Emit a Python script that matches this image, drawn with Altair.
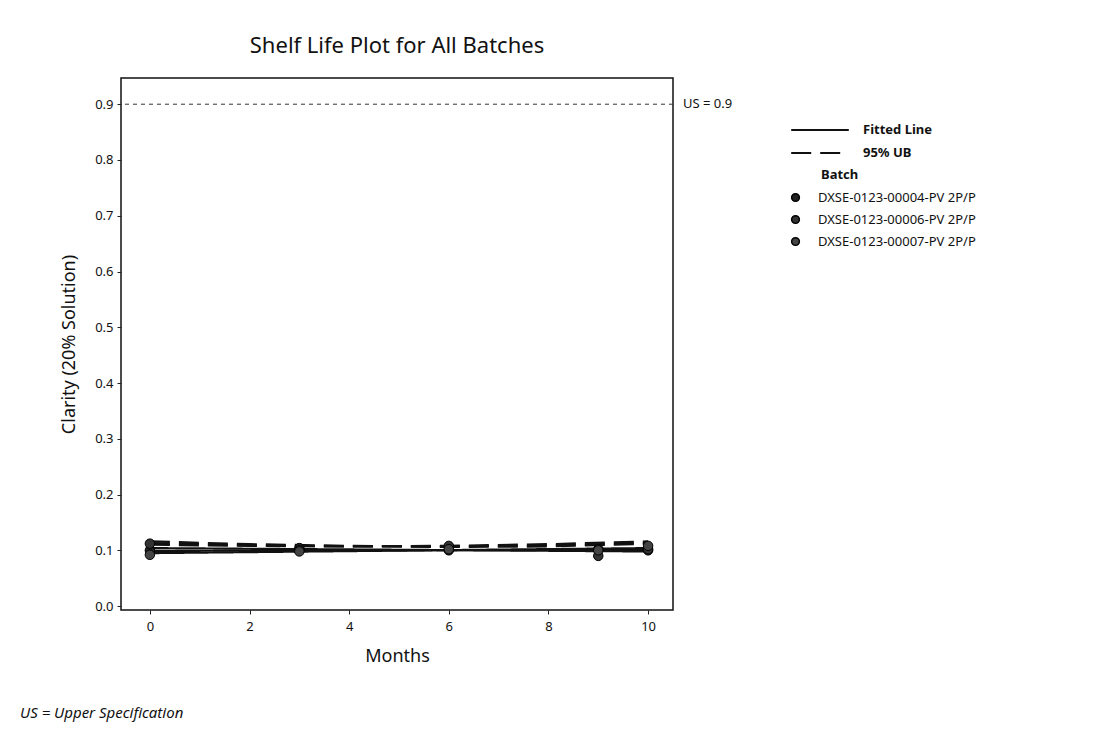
import altair as alt
import pandas as pd

FONT = "Noto Sans"

batches = ["DXSE-0123-00004-PV 2P/P", "DXSE-0123-00006-PV 2P/P", "DXSE-0123-00007-PV 2P/P"]
months = [0, 3, 6, 9, 10]
clarity_b1 = [0.100, 0.104, 0.100, 0.102, 0.100]
clarity_b2 = [0.112, 0.100, 0.108, 0.090, 0.102]
clarity_b3 = [0.092, 0.098, 0.102, 0.100, 0.108]

fit_months = [0, 10]
fit_b1 = [0.099, 0.101]
fit_b2 = [0.104, 0.098]
fit_b3 = [0.095, 0.104]

ub_months = [0, 2, 4, 6, 8, 10]
ub_b1 = [0.113, 0.109, 0.107, 0.107, 0.109, 0.113]
ub_b2 = [0.116, 0.111, 0.108, 0.106, 0.107, 0.112]
ub_b3 = [0.110, 0.108, 0.107, 0.108, 0.111, 0.116]

upper_spec = 0.9
line_types = ["Fitted Line", "95% UB"]

pts = pd.DataFrame({
    "Months": months * 3,
    "Clarity": clarity_b1 + clarity_b2 + clarity_b3,
    "Batch": [batches[0]] * 5 + [batches[1]] * 5 + [batches[2]] * 5,
})

rows = []
for b, fit in zip(batches, [fit_b1, fit_b2, fit_b3]):
    for m, v in zip(fit_months, fit):
        rows.append({"Months": m, "Clarity": v, "Batch": b, "Type": line_types[0]})
for b, ub in zip(batches, [ub_b1, ub_b2, ub_b3]):
    for m, v in zip(ub_months, ub):
        rows.append({"Months": m, "Clarity": v, "Batch": b, "Type": line_types[1]})
lines_df = pd.DataFrame(rows)

W, H = 552, 532

xscale = alt.Scale(domain=[-0.58, 10.5], nice=False, zero=False)
yscale = alt.Scale(domain=[-0.007, 0.947], nice=False, zero=False)

xaxis = alt.Axis(values=[0, 2, 4, 6, 8, 10], title="Months", grid=False, domain=False,
                 tickSize=4, tickColor="#222", labelFontSize=13, labelColor="#111",
                 labelFont=FONT, titleFont=FONT, titleFontSize=18, titleFontWeight="normal",
                 titleColor="#111", titlePadding=14, labelPadding=6)
yaxis = alt.Axis(values=[0, 0.1, 0.2, 0.3, 0.4, 0.5, 0.6, 0.7, 0.8, 0.9], format=".1f",
                 title="Clarity (20% Solution)", grid=False, domain=False,
                 tickSize=4, tickColor="#222", labelFontSize=13, labelColor="#111",
                 labelFont=FONT, titleFont=FONT, titleFontSize=18, titleFontWeight="normal",
                 titleColor="#111", titlePadding=16, labelPadding=4)

base_lines = alt.Chart(lines_df).mark_line(color="#111", strokeWidth=2.2).encode(
    x=alt.X("Months:Q", scale=xscale, axis=xaxis),
    y=alt.Y("Clarity:Q", scale=yscale, axis=yaxis),
    detail="Batch:N",
    strokeDash=alt.StrokeDash(
        "Type:N",
        scale=alt.Scale(domain=line_types, range=[[1, 0], [20, 9]]),
        legend=alt.Legend(title=None, orient="none", legendX=686, legendY=39,
                          symbolType="M-2.4,0H2.4", symbolSize=576, symbolStrokeWidth=2,
                          symbolStrokeColor="#111", symbolFillColor="transparent",
                          labelFontSize=13, labelFont=FONT,
                          labelFontWeight="bold", labelColor="#111", rowPadding=3,
                          labelOffset=30),
    ),
)

points = alt.Chart(pts).mark_point(filled=True, size=90, shape="circle", opacity=1,
                                   stroke="#000", strokeWidth=1).encode(
    x=alt.X("Months:Q", scale=xscale),
    y=alt.Y("Clarity:Q", scale=yscale),
    color=alt.Color(
        "Batch:N",
        scale=alt.Scale(domain=batches, range=["#222222", "#333333", "#444444"]),
        legend=alt.Legend(title=None, orient="none", legendX=668, legendY=113,
                          symbolType="circle", symbolSize=60, symbolStrokeColor="#000",
                          labelFontSize=13, labelFont=FONT, labelColor="#111",
                          rowPadding=7, labelOffset=16, labelLimit=400),
    ),
)

us_df = pd.DataFrame({"Clarity": [upper_spec], "label": [f"US = {upper_spec}"]})
us_rule = alt.Chart(us_df).mark_rule(color="#333", strokeDash=[4, 4], strokeWidth=1).encode(
    y=alt.Y("Clarity:Q", scale=yscale)
)
us_text = alt.Chart(us_df).mark_text(align="left", baseline="middle", fontSize=13,
                                     font=FONT, color="#111").encode(
    x=alt.value(W + 10),
    y=alt.Y("Clarity:Q", scale=yscale),
    text="label:N",
)

batch_title = alt.Chart(pd.DataFrame({"t": ["Batch"]})).mark_text(
    align="left", baseline="middle", fontSize=13, font=FONT, color="#111", fontWeight="bold"
).encode(x=alt.value(700), y=alt.value(97), text="t:N")

foot = alt.Chart(pd.DataFrame({"t": ["US = Upper Specification"]})).mark_text(
    align="left", baseline="middle", fontSize=15, font=FONT, fontStyle="italic", color="#111"
).encode(x=alt.value(-101), y=alt.value(635), text="t:N")

chart = alt.layer(us_rule, base_lines, points, us_text, batch_title, foot).properties(
    width=W, height=H,
    background="white",
    title=alt.Title("Shelf Life Plot for All Batches", fontSize=22, font=FONT,
                    fontWeight="normal", color="#111", anchor="middle", offset=20),
    autosize=alt.AutoSizeParams(type="none"),
    padding={"left": 113, "top": 70, "right": 400, "bottom": 116},
).resolve_scale(color="independent", strokeDash="independent").configure_view(
    stroke="#111", strokeWidth=1.5
)

chart.save("out.html", embed_options={"renderer": "svg", "actions": False})
